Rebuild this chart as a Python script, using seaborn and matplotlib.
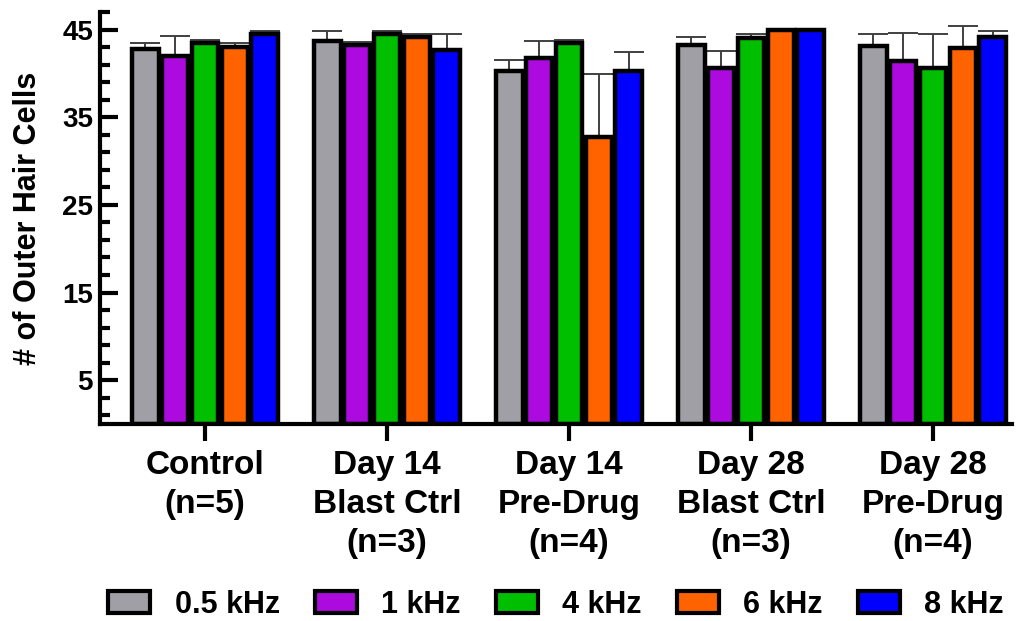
import numpy as np
import pandas as pd
import matplotlib
matplotlib.use("Agg")
import matplotlib.pyplot as plt
import seaborn as sns
from matplotlib.ticker import FixedLocator

# ---- data ----
groups = ["Control\n(n=5)", "Day 14\nBlast Ctrl\n(n=3)", "Day 14\nPre-Drug\n(n=4)",
          "Day 28\nBlast Ctrl\n(n=3)", "Day 28\nPre-Drug\n(n=4)"]
freqs = ["0.5 kHz", "1 kHz", "4 kHz", "6 kHz", "8 kHz"]
colors = ["#A09FA6", "#AC0ADF", "#00BE00", "#FF6300", "#0000FF"]

mean_05 = [42.8, 43.7, 40.3, 43.2, 43.1]
mean_1 = [42.0, 43.2, 41.7, 40.6, 41.4]
mean_4 = [43.5, 44.5, 43.5, 44.0, 40.6]
mean_6 = [43.0, 44.2, 32.7, 44.9, 42.9]
mean_8 = [44.5, 42.7, 40.3, 44.9, 44.1]

err_05 = [0.7, 1.1, 1.2, 1.0, 1.4]
err_1 = [2.3, 0.35, 2.0, 1.9, 3.2]
err_4 = [0.3, 0.3, 0.3, 0.5, 3.9]
err_6 = [0.5, 0.3, 7.2, 0.0, 2.5]
err_8 = [0.3, 1.8, 2.1, 0.0, 0.7]

means = [mean_05, mean_1, mean_4, mean_6, mean_8]
errs = [err_05, err_1, err_4, err_6, err_8]

rows = []
for f, m in zip(freqs, means):
    for g, v in zip(groups, m):
        rows.append({"group": g, "freq": f, "value": v})
df = pd.DataFrame(rows)

# ---- style ----
sns.set_theme(style="white")
plt.rcParams["font.family"] = ["Liberation Sans", "DejaVu Sans"]
plt.rcParams["font.weight"] = "bold"
plt.rcParams["text.color"] = "black"
plt.rcParams["axes.labelcolor"] = "black"
plt.rcParams["xtick.color"] = "black"
plt.rcParams["ytick.color"] = "black"

fig = plt.figure(figsize=(10.16, 6.21), dpi=100)
ax = fig.add_axes([100 / 1016, 1 - 424 / 621, 912 / 1016, (424 - 12) / 621])

sns.barplot(data=df, x="group", y="value", hue="freq", order=groups, hue_order=freqs,
            palette=colors, saturation=1, width=0.82, gap=0.11, edgecolor="black",
            linewidth=3.2, errorbar=None, ax=ax)

# error bars (upper only)
for cont, e in zip(ax.containers, errs):
    xs = [b.get_x() + b.get_width() / 2 for b in cont]
    hs = [b.get_height() for b in cont]
    ax.errorbar(xs, hs, yerr=[np.zeros(len(e)), e], fmt="none", ecolor="#404040",
                elinewidth=1.4, capsize=11, capthick=1.4, zorder=0.5)

ax.set_ylim(0, 47)
ax.set_xlim(-0.577, 4.434)
ax.yaxis.set_major_locator(FixedLocator([5, 15, 25, 35, 45]))
ax.yaxis.set_minor_locator(FixedLocator(list(range(1, 48, 2))))

for s in ["top", "right"]:
    ax.spines[s].set_visible(False)
for s in ["left", "bottom"]:
    ax.spines[s].set_linewidth(3)
    ax.spines[s].set_color("black")

ax.tick_params(axis="y", which="major", direction="in", length=13, width=3,
               left=True, labelsize=20, pad=5, colors="black")
ax.tick_params(axis="y", which="minor", direction="in", length=7, width=3, left=True,
               colors="black")
ax.tick_params(axis="x", which="major", direction="out", length=12, width=3,
               bottom=True, labelsize=24, pad=7, colors="black")
for lbl in ax.get_xticklabels():
    lbl.set_linespacing(1.32)

ax.set_xlabel("")
ax.set_ylabel("# of Outer Hair Cells", fontsize=22, fontweight="bold", labelpad=14,
              color="black")

handles, labels = ax.get_legend_handles_labels()
if ax.legend_ is not None:
    ax.legend_.remove()
leg = fig.legend(handles, labels, loc="center", bbox_to_anchor=(556 / 1016, 1 - 605 / 621),
                 ncol=5, frameon=False, fontsize=22, handlelength=1.37, handleheight=0.72,
                 handletextpad=0.8, columnspacing=1.15, borderaxespad=0)
for h in leg.legend_handles:
    h.set_edgecolor("black")
    h.set_linewidth(3)
for t in leg.get_texts():
    t.set_color("black")

fig.savefig("out.png", dpi=100)
